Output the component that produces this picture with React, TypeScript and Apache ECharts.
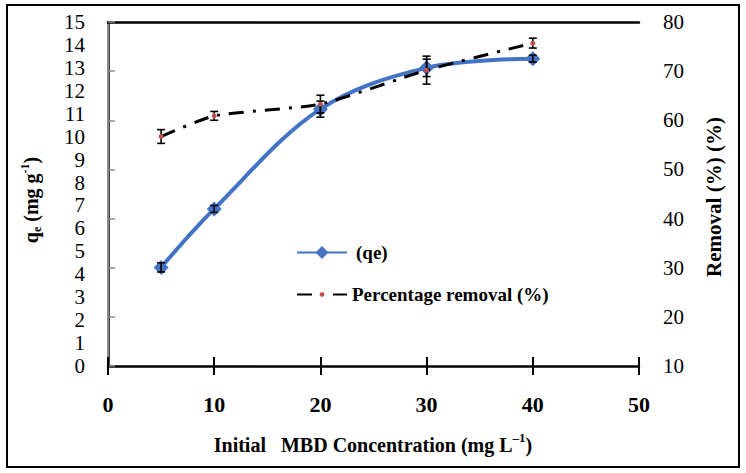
import React, { useEffect, useRef } from "react";
import * as echarts from "echarts";

const concentrations = [5, 10, 20, 30, 40];
const qeValues = [4.3, 6.85, 11.2, 13.0, 13.4];
const qeErrors = [0.2, 0.15, 0.35, 0.38, 0.15];
const removalValues = [56.7, 60.9, 63.3, 70.2, 75.7];
const removalErrors = [1.4, 0.9, 1.8, 2.85, 1.0];
const leftTicks = { min: 0, max: 15, interval: 1 };
const rightTicks = { min: 10, max: 80, interval: 10 };
const xTicks = { min: 0, max: 50, interval: 10 };
const seriesNames = ["(qe)", "Percentage removal (%)"];

const FONT = "Liberation Serif";

export default function App() {
  const ref = useRef<HTMLDivElement>(null);
  useEffect(() => {
    document.body.style.margin = "0";
    const chart = echarts.init(ref.current!, undefined, { renderer: "svg" });

    const errRender = (params: any, api: any) => {
      const x = api.value(0);
      const y = api.value(1);
      const e = api.value(2);
      const top = api.coord([x, y + e]);
      const bot = api.coord([x, y - e]);
      const hw = 4;
      const st = { stroke: "#000", lineWidth: 1.6 };
      return {
        type: "group",
        children: [
          { type: "line", shape: { x1: top[0], y1: top[1], x2: bot[0], y2: bot[1] }, style: st },
          { type: "line", shape: { x1: top[0] - hw, y1: top[1], x2: top[0] + hw, y2: top[1] }, style: st },
          { type: "line", shape: { x1: bot[0] - hw, y1: bot[1], x2: bot[0] + hw, y2: bot[1] }, style: st },
        ],
      };
    };

    const legendText = {
      fontFamily: FONT,
      fontWeight: "bold",
      fontSize: 19,
      color: "#000",
    };

    const option: any = {
      animation: false,
      backgroundColor: "#fff",
      grid: { left: 108, right: 107, top: 22, bottom: 107, containLabel: false },
      legend: [
        {
          data: [seriesNames[0]],
          left: 296,
          top: 243,
          padding: 0,
          itemWidth: 50,
          itemHeight: 16,
          textStyle: { ...legendText, padding: [0, 0, 0, 4] },
        },
        {
          data: [seriesNames[1]],
          left: 296,
          top: 285,
          padding: 0,
          itemWidth: 50,
          itemHeight: 6,
          textStyle: { ...legendText, padding: [0, 0, 0, 0] },
        },
      ],
      xAxis: [
        {
          type: "value",
          min: xTicks.min,
          max: xTicks.max,
          interval: xTicks.interval,
          position: "bottom",
          axisLine: { show: true, lineStyle: { color: "#000", width: 2.5 } },
          axisTick: { show: true, inside: false, length: 9, lineStyle: { color: "#000", width: 2 } },
          axisLabel: {
            margin: 27,
            fontFamily: FONT,
            fontWeight: "bold",
            fontSize: 22,
            color: "#000",
          },
          splitLine: { show: false },
        },
        {
          type: "value",
          min: xTicks.min,
          max: xTicks.max,
          interval: xTicks.interval,
          position: "bottom",
          axisLine: { show: false },
          axisTick: { show: true, inside: true, length: 9, lineStyle: { color: "#000", width: 2 } },
          axisLabel: { show: false },
          splitLine: { show: false },
        },
        {
          type: "value",
          min: xTicks.min,
          max: xTicks.max,
          position: "top",
          axisLine: { show: true, lineStyle: { color: "#000", width: 2.5 } },
          axisTick: { show: false },
          axisLabel: { show: false },
          splitLine: { show: false },
        },
      ],
      yAxis: [
        {
          type: "value",
          min: leftTicks.min,
          max: leftTicks.max,
          interval: leftTicks.interval,
          position: "left",
          axisLine: { show: true, lineStyle: { color: "#000", width: 2.5 } },
          axisTick: { show: false },
          axisLabel: { margin: 23, fontFamily: FONT, fontSize: 21, color: "#000" },
          splitLine: { show: false },
        },
        {
          type: "value",
          min: rightTicks.min,
          max: rightTicks.max,
          interval: rightTicks.interval,
          position: "right",
          axisLine: { show: true, lineStyle: { color: "#8a8a8a", width: 2 } },
          axisTick: { show: true, inside: false, length: 7, lineStyle: { color: "#8a8a8a", width: 1.5 } },
          axisLabel: { margin: 24, fontFamily: FONT, fontSize: 21, color: "#000" },
          splitLine: { show: false },
        },
      ],
      series: [
        {
          name: seriesNames[0],
          type: "line",
          xAxisIndex: 0,
          yAxisIndex: 0,
          data: concentrations.map((c, i) => [c, qeValues[i]]),
          smooth: 0.35,
          symbol: "diamond",
          symbolSize: 15,
          itemStyle: { color: "#4472C4" },
          lineStyle: { color: "#4472C4", width: 4 },
          z: 2,
        },
        {
          name: "qeErr",
          type: "custom",
          xAxisIndex: 0,
          yAxisIndex: 0,
          renderItem: errRender,
          data: concentrations.map((c, i) => [c, qeValues[i], qeErrors[i]]),
          z: 3,
        },
        {
          name: "remErr",
          type: "custom",
          xAxisIndex: 0,
          yAxisIndex: 1,
          renderItem: errRender,
          data: concentrations.map((c, i) => [c, removalValues[i], removalErrors[i]]),
          z: 3,
        },
        {
          name: seriesNames[1],
          type: "line",
          xAxisIndex: 0,
          yAxisIndex: 1,
          data: concentrations.map((c, i) => [c, removalValues[i]]),
          smooth: 0.2,
          symbol: "circle",
          symbolSize: 5,
          itemStyle: { color: "#C0504D" },
          lineStyle: { color: "#000", width: 3, type: [15, 9, 3, 9], cap: "butt" },
          z: 4,
        },
      ],
      graphic: [
        {
          type: "rect",
          shape: { x: 7, y: 5, width: 732, height: 462 },
          style: { fill: "none", stroke: "#000", lineWidth: 2 },
          z: 0,
        },
        {
          type: "text",
          x: 373,
          y: 443,
          style: {
            text: "{n|Initial   MBD Concentration (mg L}{sup|\u20131}{n|)}",
            textAlign: "center",
            textVerticalAlign: "middle",
            rich: {
              n: { fontFamily: FONT, fontWeight: "bold", fontSize: 20, fill: "#000", lineHeight: 24, verticalAlign: "bottom" },
              sup: { fontFamily: FONT, fontWeight: "bold", fontSize: 13, fill: "#000", lineHeight: 24, verticalAlign: "top" },
            },
          },
        },
        {
          type: "text",
          x: 31,
          y: 200,
          rotation: Math.PI / 2,
          style: {
            text: "{n|q}{sub|e}{n| (mg g}{sup|-1}{n|)}",
            textAlign: "center",
            textVerticalAlign: "middle",
            rich: {
              n: { fontFamily: FONT, fontWeight: "bold", fontSize: 20, fill: "#000", lineHeight: 24, verticalAlign: "middle" },
              sub: { fontFamily: FONT, fontWeight: "bold", fontSize: 12, fill: "#000", lineHeight: 24, verticalAlign: "bottom" },
              sup: { fontFamily: FONT, fontWeight: "bold", fontSize: 12, fill: "#000", lineHeight: 24, verticalAlign: "top" },
            },
          },
        },
        {
          type: "text",
          x: 714,
          y: 197,
          rotation: Math.PI / 2,
          style: {
            text: "Removal (%) (%)",
            textAlign: "center",
            textVerticalAlign: "middle",
            fontFamily: FONT,
            fontWeight: "bold",
            fontSize: 21,
            fill: "#000",
          },
        },
      ],
    };
    chart.setOption(option);
    return () => chart.dispose();
  }, []);
  return (
    <div
      ref={ref}
      style={{ position: "fixed", left: 0, top: 0, width: 746, height: 473 }}
    />
  );
}
